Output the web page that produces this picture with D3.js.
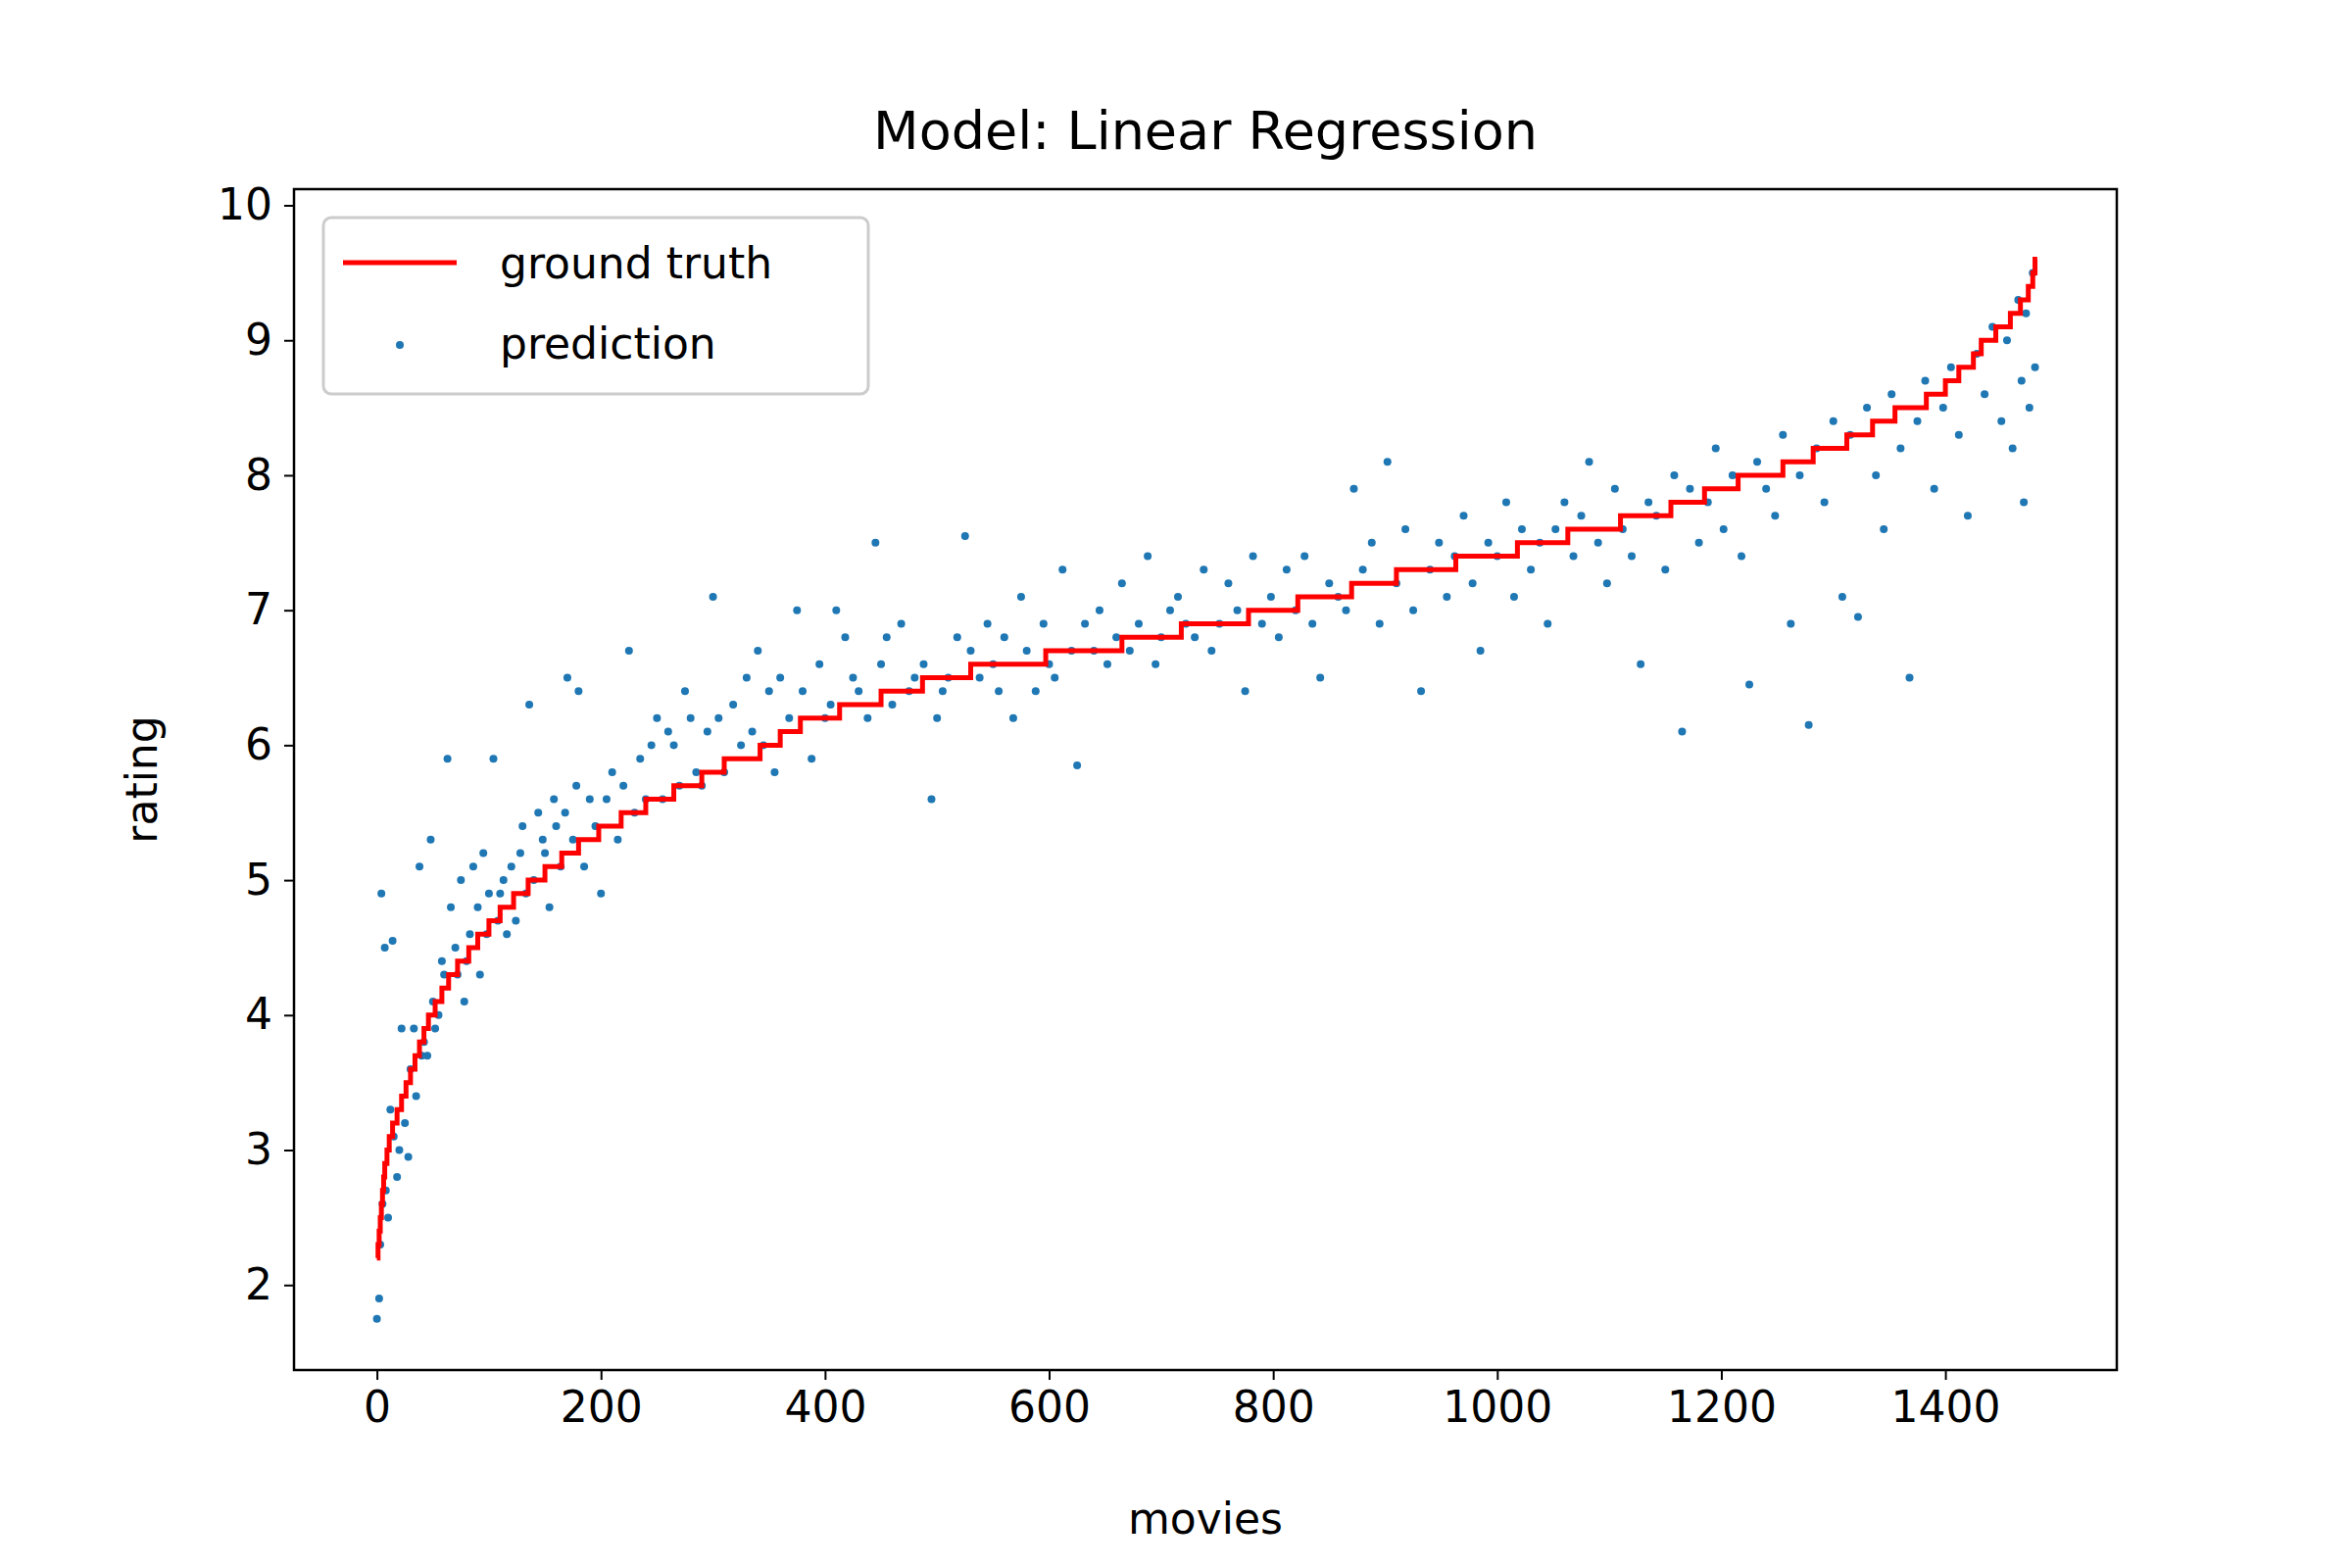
<!DOCTYPE html>
<html><head><meta charset="utf-8">
<script src="https://cdn.jsdelivr.net/npm/d3@7"></script>
<style>body{margin:0;background:#fff}text{font-family:"DejaVu Sans",sans-serif}</style>
</head><body><svg id="c" width="2400" height="1600"></svg>
<script>
// ground truth: rating level and first movie index of that level
const gtLevels = [];
for (let i = 0; i <= 74; i++) gtLevels.push(+(2.2 + i * 0.1).toFixed(1));
const gtStart = [0,1,2,3,4,5,6,7,9,11,14,18,22,26,30,34,38,42,46,52,58,64,72,82,90,100,110,122,135,150,
  165,180,198,218,240,265,290,310,342,360,378,413,450,487,530,597,665,718,778,822,870,910,963,1018,1063,1110,1155,1185,1215,1255,
  1282,1312,1335,1355,1383,1400,1412,1425,1432,1445,1458,1467,1474,1478,1480];
const gtEnd = 1482;

// predictions (movie index, predicted rating)
const predX = [0,2,3,4,5,7,8,10,12,14,15,18,20,22,25,28,30,33,35,38,40,42,45,48,50,52,55,58,60,63,66,70,72,75,78,80,83,86,90,92,95,98,100,104,108,110,113,116,120,124,128,130,133,136,140,144,148,150,154,158,160,164,168,170,175,178,180,185,190,195,200,205,210,215,220,225,230,235,240,245,250,255,260,265,270,275,280,285,290,295,300,305,310,318,325,330,335,340,345,350,355,360,368,375,380,388,395,400,405,410,418,425,430,438,445,450,455,460,468,475,480,488,495,500,505,510,518,525,530,538,545,550,555,560,568,575,580,588,595,600,605,612,620,625,632,640,645,652,660,665,672,680,688,695,700,708,715,722,730,738,745,752,760,768,775,782,790,798,805,812,820,828,835,842,850,858,865,872,880,888,895,902,910,918,925,932,940,948,955,962,970,978,985,992,1000,1008,1015,1022,1030,1038,1045,1052,1060,1068,1075,1082,1090,1098,1105,1112,1120,1128,1135,1142,1150,1158,1165,1172,1180,1188,1195,1202,1210,1218,1225,1232,1240,1248,1255,1262,1270,1278,1285,1292,1300,1308,1315,1322,1330,1338,1345,1352,1360,1368,1375,1382,1390,1398,1405,1412,1420,1428,1435,1442,1450,1455,1460,1465,1468,1470,1472,1475,1478,1480];
const predY = [1.75,1.9,2.3,4.9,2.6,4.5,2.7,2.5,3.3,4.55,3.1,2.8,3.0,3.9,3.2,2.95,3.6,3.9,3.4,5.1,3.7,3.8,3.7,5.3,4.1,3.9,4.0,4.4,4.3,5.9,4.8,4.5,4.3,5.0,4.1,4.4,4.6,5.1,4.8,4.3,5.2,4.6,4.9,5.9,4.7,4.9,5.0,4.6,5.1,4.7,5.2,5.4,4.9,6.3,5.0,5.5,5.3,5.2,4.8,5.6,5.4,5.1,5.5,6.5,5.3,5.7,6.4,5.1,5.6,5.4,4.9,5.6,5.8,5.3,5.7,6.7,5.5,5.9,5.6,6.0,6.2,5.6,6.1,6.0,5.7,6.4,6.2,5.8,5.7,6.1,7.1,6.2,5.8,6.3,6.0,6.5,6.1,6.7,6.0,6.4,5.8,6.5,6.2,7.0,6.4,5.9,6.6,6.2,6.3,7.0,6.8,6.5,6.4,6.2,7.5,6.6,6.8,6.3,6.9,6.4,6.5,6.6,5.6,6.2,6.4,6.5,6.8,7.55,6.7,6.5,6.9,6.6,6.4,6.8,6.2,7.1,6.7,6.4,6.9,6.6,6.5,7.3,6.7,5.85,6.9,6.7,7.0,6.6,6.8,7.2,6.7,6.9,7.4,6.6,6.8,7.0,7.1,6.9,6.8,7.3,6.7,6.9,7.2,7.0,6.4,7.4,6.9,7.1,6.8,7.3,7.0,7.4,6.9,6.5,7.2,7.1,7.0,7.9,7.3,7.5,6.9,8.1,7.2,7.6,7.0,6.4,7.3,7.5,7.1,7.4,7.7,7.2,6.7,7.5,7.4,7.8,7.1,7.6,7.3,7.5,6.9,7.6,7.8,7.4,7.7,8.1,7.5,7.2,7.9,7.6,7.4,6.6,7.8,7.7,7.3,8.0,6.1,7.9,7.5,7.8,8.2,7.6,8.0,7.4,6.45,8.1,7.9,7.7,8.3,6.9,8.0,6.15,8.2,7.8,8.4,7.1,8.3,6.95,8.5,8.0,7.6,8.6,8.2,6.5,8.4,8.7,7.9,8.5,8.8,8.3,7.7,8.9,8.6,9.1,8.4,9.0,8.2,9.3,8.7,7.8,9.2,8.5,9.5,8.8,9.7,9.1,8.9];

const L = 300, R = 2160, T = 193, B = 1398;
const svg = d3.select("#c");
const x = d3.scaleLinear().domain([-74, 1553]).range([L, R]);
const y = d3.scaleLinear().domain([1.37, 10.12]).range([B, T]);
const fs = 44;

// step line path
const steps = [];
gtLevels.forEach((v, i) => {
  const s = gtStart[i], e = i + 1 < gtStart.length ? gtStart[i + 1] : gtEnd;
  steps.push([s, v], [e, v]);
});
svg.append("g").selectAll("circle").data(predX).join("circle")
  .attr("cx", (d) => x(d)).attr("cy", (d, i) => y(predY[i])).attr("r", 4).attr("fill", "#1f77b4");
svg.append("path").datum(steps).attr("fill", "none").attr("stroke", "red").attr("stroke-width", 5)
  .attr("d", d3.line().x(d => x(d[0])).y(d => y(d[1])));

const xa = svg.append("g").attr("transform", `translate(0,${B})`)
  .call(d3.axisBottom(x).tickValues([0,200,400,600,800,1000,1200,1400]).tickFormat(d3.format("d")).tickSize(10).tickPadding(12));
const ya = svg.append("g").attr("transform", `translate(${L},0)`)
  .call(d3.axisLeft(y).tickValues([2,3,4,5,6,7,8,9,10]).tickFormat(d3.format("d")).tickSize(10).tickPadding(12));
[xa, ya].forEach(a => {
  a.selectAll("text").attr("font-size", fs).attr("font-family", "DejaVu Sans").attr("fill", "#000");
  a.selectAll("line").attr("stroke", "#000").attr("stroke-width", 2);
  a.select(".domain").remove();
});
svg.append("rect").attr("x", L).attr("y", T).attr("width", R - L).attr("height", B - T)
  .attr("fill", "none").attr("stroke", "#000").attr("stroke-width", 2.5);

svg.append("text").attr("x", (L + R) / 2).attr("y", 152).attr("text-anchor", "middle")
  .attr("font-size", 54).text("Model: Linear Regression");
svg.append("text").attr("x", (L + R) / 2).attr("y", 1565).attr("text-anchor", "middle")
  .attr("font-size", fs).text("movies");
svg.append("text").attr("transform", `translate(160,${(T + B) / 2}) rotate(-90)`).attr("text-anchor", "middle")
  .attr("font-size", fs).text("rating");

// legend
const lg = svg.append("g").attr("transform", "translate(330,222)");
lg.append("rect").attr("width", 556).attr("height", 180).attr("rx", 8)
  .attr("fill", "rgba(255,255,255,0.8)").attr("stroke", "#ccc").attr("stroke-width", 3);
lg.append("line").attr("x1", 20).attr("x2", 136).attr("y1", 46).attr("y2", 46).attr("stroke", "red").attr("stroke-width", 5);
lg.append("circle").attr("cx", 78).attr("cy", 130).attr("r", 4).attr("fill", "#1f77b4");
lg.append("text").attr("x", 180).attr("y", 62).attr("font-size", fs).text("ground truth");
lg.append("text").attr("x", 180).attr("y", 144).attr("font-size", fs).text("prediction");
</script></body></html>
